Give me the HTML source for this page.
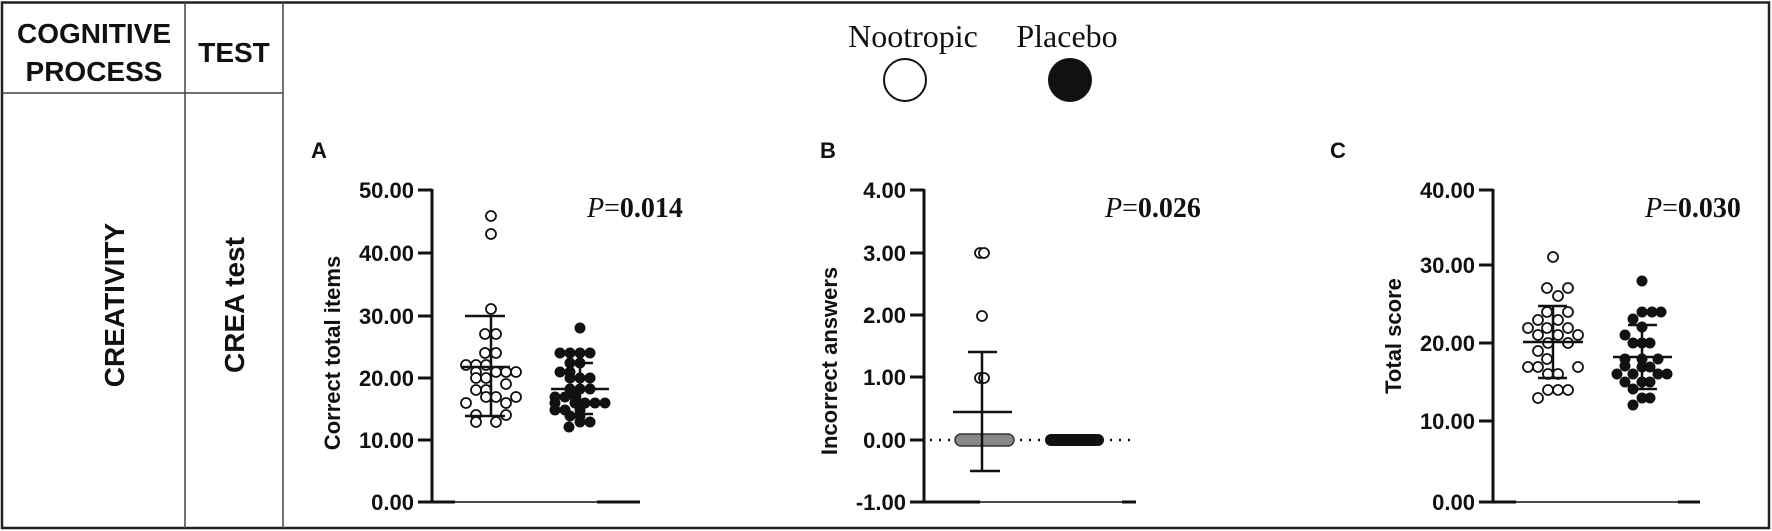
<!DOCTYPE html>
<html><head><meta charset="utf-8"><style>
html,body{margin:0;padding:0;background:#fff}
svg{display:block}
.t{font-family:"Liberation Sans",Arial,sans-serif;font-weight:bold;font-size:22px;fill:#111}
.h{font-family:"Liberation Sans",Arial,sans-serif;font-weight:bold;font-size:28px;fill:#111}
.s{font-family:"Liberation Serif",serif;font-size:32px;fill:#111}
.p{font-family:"Liberation Serif",serif;font-size:28px;fill:#111;font-weight:bold}
.o circle{fill:#fff;stroke:#111;stroke-width:1.8}
.f circle{fill:#111;stroke:#111;stroke-width:1}
</style></head><body>
<svg width="1772" height="531" viewBox="0 0 1772 531" xmlns="http://www.w3.org/2000/svg">
<rect x="2" y="2.5" width="1767" height="525.5" fill="none" stroke="#222" stroke-width="2.5"/>
<line x1="185" y1="2" x2="185" y2="528" stroke="#444" stroke-width="1.5"/>
<line x1="283" y1="2" x2="283" y2="528" stroke="#444" stroke-width="1.5"/>
<line x1="2" y1="93" x2="283" y2="93" stroke="#444" stroke-width="1.5"/>
<text class="h" x="94" y="43" text-anchor="middle">COGNITIVE</text>
<text class="h" x="94" y="81" text-anchor="middle">PROCESS</text>
<text class="h" x="234" y="62" text-anchor="middle">TEST</text>
<text class="h" transform="translate(124,305) rotate(-90)" text-anchor="middle">CREATIVITY</text>
<text class="h" transform="translate(244,305) rotate(-90)" text-anchor="middle">CREA test</text>
<text class="s" x="913" y="47" text-anchor="middle">Nootropic</text>
<text class="s" x="1067" y="47" text-anchor="middle">Placebo</text>
<circle cx="905" cy="80" r="21" fill="#fff" stroke="#111" stroke-width="2"/>
<circle cx="1070" cy="80" r="22" fill="#111"/>
<text class="t" x="311" y="158" font-size="30">A</text>
<text class="t" x="820" y="158" font-size="30">B</text>
<text class="t" x="1330" y="158" font-size="30">C</text>

<!-- Panel A -->
<g stroke="#111" stroke-width="3">
<line x1="432" y1="189" x2="432" y2="503"/>
<line x1="418" y1="190" x2="432" y2="190"/><line x1="418" y1="253" x2="432" y2="253"/><line x1="418" y1="316" x2="432" y2="316"/><line x1="418" y1="378" x2="432" y2="378"/><line x1="418" y1="440" x2="432" y2="440"/><line x1="418" y1="502" x2="432" y2="502"/>
<line x1="432" y1="502" x2="455" y2="502"/><line x1="597" y1="502" x2="640" y2="502"/>
</g>
<line x1="432" y1="502" x2="640" y2="502" stroke="#111" stroke-width="1.5"/>
<g class="t" text-anchor="end"><text x="414" y="198">50.00</text><text x="414" y="261">40.00</text><text x="414" y="324">30.00</text><text x="414" y="386">20.00</text><text x="414" y="448">10.00</text><text x="414" y="510">0.00</text></g>
<text class="t" transform="translate(340,353) rotate(-90)" text-anchor="middle" font-size="25">Correct total items</text>
<text class="p" x="587" y="217"><tspan font-style="italic" font-weight="normal">P</tspan><tspan font-weight="normal">=</tspan>0.014</text>
<g class="o">
<circle cx="491" cy="216" r="5"/><circle cx="491" cy="234" r="5"/><circle cx="491" cy="309" r="5"/>
<circle cx="485" cy="334" r="5"/><circle cx="496" cy="334" r="5"/><circle cx="485" cy="353" r="5"/><circle cx="496" cy="353" r="5"/>
<circle cx="466" cy="365" r="5"/><circle cx="476" cy="365" r="5"/><circle cx="486" cy="365" r="5"/>
<circle cx="476" cy="372" r="5"/><circle cx="496" cy="372" r="5"/><circle cx="506" cy="372" r="5"/><circle cx="516" cy="372" r="5"/>
<circle cx="476" cy="378" r="5"/><circle cx="486" cy="378" r="5"/><circle cx="506" cy="384" r="5"/>
<circle cx="476" cy="390" r="5"/><circle cx="486" cy="390" r="5"/>
<circle cx="486" cy="397" r="5"/><circle cx="496" cy="397" r="5"/><circle cx="516" cy="397" r="5"/>
<circle cx="466" cy="403" r="5"/><circle cx="506" cy="403" r="5"/>
<circle cx="476" cy="415" r="5"/><circle cx="506" cy="415" r="5"/><circle cx="476" cy="422" r="5"/><circle cx="496" cy="422" r="5"/>
</g>
<g stroke="#111" stroke-width="2.5"><line x1="491" y1="316" x2="491" y2="416"/><line x1="465" y1="316" x2="505" y2="316"/><line x1="462" y1="367" x2="510" y2="367"/><line x1="465" y1="416" x2="505" y2="416"/></g>
<g class="f">
<circle cx="580" cy="328" r="5"/>
<circle cx="560" cy="353" r="5"/><circle cx="570" cy="353" r="5"/><circle cx="580" cy="353" r="5"/><circle cx="590" cy="353" r="5"/>
<circle cx="570" cy="363" r="5"/><circle cx="580" cy="363" r="5"/><circle cx="560" cy="372" r="5"/><circle cx="570" cy="372" r="5"/>
<circle cx="570" cy="378" r="5"/><circle cx="580" cy="378" r="5"/><circle cx="590" cy="378" r="5"/>
<circle cx="570" cy="389" r="5"/><circle cx="580" cy="389" r="5"/><circle cx="590" cy="389" r="5"/>
<circle cx="555" cy="397" r="5"/><circle cx="565" cy="397" r="5"/><circle cx="575" cy="397" r="5"/>
<circle cx="555" cy="403" r="5"/><circle cx="575" cy="403" r="5"/><circle cx="585" cy="403" r="5"/><circle cx="595" cy="403" r="5"/><circle cx="605" cy="403" r="5"/>
<circle cx="555" cy="410" r="5"/><circle cx="565" cy="410" r="5"/><circle cx="580" cy="410" r="5"/>
<circle cx="570" cy="416" r="5"/><circle cx="580" cy="416" r="5"/><circle cx="580" cy="422" r="5"/><circle cx="590" cy="422" r="5"/><circle cx="569" cy="427" r="5"/>
</g>
<g stroke="#111" stroke-width="2.5"><line x1="580" y1="363" x2="580" y2="414"/><line x1="568" y1="363" x2="593" y2="363"/><line x1="551" y1="389" x2="609" y2="389"/><line x1="568" y1="414" x2="593" y2="414"/></g>

<!-- Panel B -->
<g stroke="#111" stroke-width="3">
<line x1="924" y1="189" x2="924" y2="503"/>
<line x1="910" y1="190" x2="924" y2="190"/><line x1="910" y1="253" x2="924" y2="253"/><line x1="910" y1="315" x2="924" y2="315"/><line x1="910" y1="377" x2="924" y2="377"/><line x1="910" y1="440" x2="924" y2="440"/><line x1="910" y1="502" x2="924" y2="502"/>
<line x1="924" y1="502" x2="980" y2="502"/><line x1="1122" y1="502" x2="1136" y2="502"/>
</g>
<line x1="924" y1="502" x2="1136" y2="502" stroke="#111" stroke-width="1.5"/>
<g class="t" text-anchor="end"><text x="906" y="198">4.00</text><text x="906" y="261">3.00</text><text x="906" y="323">2.00</text><text x="906" y="385">1.00</text><text x="906" y="448">0.00</text><text x="906" y="510">-1.00</text></g>
<text class="t" transform="translate(837,361) rotate(-90)" text-anchor="middle" font-size="25">Incorrect answers</text>
<text class="p" x="1105" y="217"><tspan font-style="italic" font-weight="normal">P</tspan><tspan font-weight="normal">=</tspan>0.026</text>
<line x1="930" y1="440" x2="1136" y2="440" stroke="#111" stroke-width="2.5" stroke-dasharray="2,7"/>
<g class="o">
<circle cx="980" cy="253" r="5"/><circle cx="984" cy="253" r="5"/>
<circle cx="982" cy="316" r="5"/><circle cx="980" cy="378" r="5"/><circle cx="984" cy="378" r="5"/>
</g>
<rect x="955" y="434" width="59" height="12" rx="6" fill="#888" stroke="#333" stroke-width="1.5"/>
<rect x="1045" y="434" width="59" height="12" rx="6" fill="#111"/>
<g stroke="#111" stroke-width="2.5"><line x1="982" y1="352" x2="982" y2="471"/><line x1="968" y1="352" x2="997" y2="352"/><line x1="953" y1="412" x2="1012" y2="412"/><line x1="970" y1="471" x2="1000" y2="471"/></g>

<!-- Panel C -->
<g stroke="#111" stroke-width="3">
<line x1="1493" y1="189" x2="1493" y2="503"/>
<line x1="1479" y1="190" x2="1493" y2="190"/><line x1="1479" y1="265" x2="1493" y2="265"/><line x1="1479" y1="343" x2="1493" y2="343"/><line x1="1479" y1="421" x2="1493" y2="421"/><line x1="1479" y1="502" x2="1493" y2="502"/>
<line x1="1493" y1="502" x2="1516" y2="502"/><line x1="1678" y1="502" x2="1700" y2="502"/>
</g>
<line x1="1493" y1="502" x2="1700" y2="502" stroke="#111" stroke-width="1.5"/>
<g class="t" text-anchor="end"><text x="1475" y="198">40.00</text><text x="1475" y="273">30.00</text><text x="1475" y="351">20.00</text><text x="1475" y="429">10.00</text><text x="1475" y="510">0.00</text></g>
<text class="t" transform="translate(1401,336) rotate(-90)" text-anchor="middle" font-size="25">Total  score</text>
<text class="p" x="1645" y="217"><tspan font-style="italic" font-weight="normal">P</tspan><tspan font-weight="normal">=</tspan>0.030</text>
<g class="o">
<circle cx="1553" cy="257" r="5"/><circle cx="1547" cy="288" r="5"/><circle cx="1568" cy="288" r="5"/><circle cx="1558" cy="296" r="5"/>
<circle cx="1547" cy="312" r="5"/><circle cx="1568" cy="312" r="5"/><circle cx="1538" cy="320" r="5"/><circle cx="1558" cy="320" r="5"/>
<circle cx="1528" cy="328" r="5"/><circle cx="1547" cy="328" r="5"/><circle cx="1568" cy="328" r="5"/>
<circle cx="1538" cy="335" r="5"/><circle cx="1558" cy="335" r="5"/><circle cx="1578" cy="335" r="5"/>
<circle cx="1548" cy="343" r="5"/><circle cx="1568" cy="343" r="5"/><circle cx="1538" cy="351" r="5"/><circle cx="1547" cy="359" r="5"/>
<circle cx="1528" cy="367" r="5"/><circle cx="1538" cy="367" r="5"/><circle cx="1578" cy="367" r="5"/>
<circle cx="1548" cy="374" r="5"/><circle cx="1558" cy="374" r="5"/>
<circle cx="1548" cy="390" r="5"/><circle cx="1558" cy="390" r="5"/><circle cx="1568" cy="390" r="5"/><circle cx="1538" cy="398" r="5"/>
</g>
<g stroke="#111" stroke-width="2.5"><line x1="1553" y1="306" x2="1553" y2="378"/><line x1="1538" y1="306" x2="1567" y2="306"/><line x1="1523" y1="342" x2="1583" y2="342"/><line x1="1538" y1="378" x2="1567" y2="378"/></g>
<g class="f">
<circle cx="1642" cy="281" r="5"/><circle cx="1642" cy="312" r="5"/><circle cx="1652" cy="312" r="5"/><circle cx="1661" cy="312" r="5"/>
<circle cx="1633" cy="319" r="5"/><circle cx="1642" cy="327" r="5"/><circle cx="1625" cy="335" r="5"/>
<circle cx="1633" cy="343" r="5"/><circle cx="1642" cy="343" r="5"/><circle cx="1650" cy="343" r="5"/>
<circle cx="1625" cy="359" r="5"/><circle cx="1642" cy="359" r="5"/><circle cx="1658" cy="359" r="5"/>
<circle cx="1617" cy="374" r="5"/><circle cx="1625" cy="366" r="5"/><circle cx="1633" cy="374" r="5"/><circle cx="1642" cy="367" r="5"/><circle cx="1650" cy="367" r="5"/><circle cx="1658" cy="374" r="5"/><circle cx="1667" cy="374" r="5"/>
<circle cx="1625" cy="382" r="5"/><circle cx="1642" cy="382" r="5"/><circle cx="1650" cy="382" r="5"/>
<circle cx="1633" cy="389" r="5"/><circle cx="1642" cy="398" r="5"/><circle cx="1650" cy="398" r="5"/><circle cx="1633" cy="405" r="5"/>
</g>
<g stroke="#111" stroke-width="2.5"><line x1="1642" y1="325" x2="1642" y2="389"/><line x1="1628" y1="325" x2="1657" y2="325"/><line x1="1613" y1="357" x2="1672" y2="357"/><line x1="1628" y1="389" x2="1657" y2="389"/></g>
</svg>
</body></html>
